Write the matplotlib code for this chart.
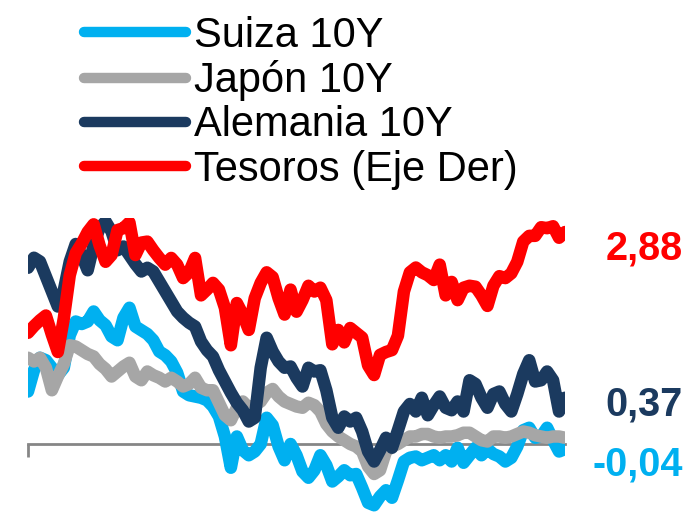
import numpy as np
import pandas as pd
import matplotlib
matplotlib.use("Agg")
import matplotlib.pyplot as plt

plt.rcParams['font.family'] = ['Liberation Sans', 'DejaVu Sans']

# 10-year government bond yields (%), left axis
suiza = [0.42, 0.59, 0.69, 0.67, 0.61, 0.55, 0.61, 0.87, 0.98, 0.96,
         0.98, 1.06, 0.99, 0.95, 0.86, 0.83, 1.01, 1.09, 0.94, 0.91,
         0.88, 0.83, 0.74, 0.71, 0.66, 0.57, 0.42, 0.39, 0.38, 0.37,
         0.35, 0.30, 0.22, 0.06, -0.19, 0.06, -0.05, -0.09, -0.06, 0.00,
         0.21, 0.15, -0.02, -0.13, 0.00, -0.09, -0.22, -0.27, -0.21, -0.09,
         -0.17, -0.30, -0.26, -0.21, -0.25, -0.24, -0.35, -0.47, -0.49, -0.42,
         -0.37, -0.43, -0.29, -0.14, -0.11, -0.10, -0.13, -0.11, -0.09, -0.13,
         -0.09, -0.14, -0.03, -0.15, -0.09, -0.03, -0.09, -0.04, -0.08, -0.10,
         -0.14, -0.11, -0.02, 0.11, 0.13, 0.05, 0.06, 0.13, 0.03, -0.06,
         -0.04]

japon = [0.69, 0.66, 0.69, 0.61, 0.43, 0.54, 0.64, 0.79, 0.78, 0.75,
         0.72, 0.70, 0.64, 0.60, 0.54, 0.58, 0.62, 0.65, 0.54, 0.51,
         0.58, 0.55, 0.53, 0.50, 0.53, 0.50, 0.46, 0.48, 0.53, 0.45,
         0.43, 0.43, 0.33, 0.23, 0.19, 0.29, 0.34, 0.29, 0.31, 0.34,
         0.41, 0.44, 0.38, 0.34, 0.32, 0.30, 0.29, 0.33, 0.31, 0.26,
         0.16, 0.10, 0.06, 0.03, 0.00, -0.02, -0.06, -0.18, -0.24, -0.21,
         -0.06, -0.02, 0.00, 0.03, 0.06, 0.06, 0.08, 0.08, 0.06, 0.05,
         0.06, 0.06, 0.07, 0.09, 0.09, 0.06, 0.03, 0.02, 0.06, 0.06,
         0.05, 0.06, 0.08, 0.10, 0.09, 0.07, 0.06, 0.05, 0.06, 0.06,
         0.05]

alemania = [1.41, 1.49, 1.46, 1.34, 1.22, 1.10, 1.23, 1.46, 1.60, 1.51,
            1.39, 1.59, 1.73, 1.78, 1.70, 1.55, 1.58, 1.51, 1.44, 1.38,
            1.41, 1.38, 1.30, 1.22, 1.14, 1.06, 1.01, 0.97, 0.94, 0.82,
            0.75, 0.70, 0.59, 0.50, 0.41, 0.33, 0.27, 0.18, 0.21, 0.61,
            0.85, 0.74, 0.66, 0.61, 0.62, 0.53, 0.46, 0.61, 0.58, 0.59,
            0.43, 0.21, 0.13, 0.22, 0.18, 0.21, 0.10, -0.06, -0.14, -0.05,
            0.05, -0.03, 0.11, 0.26, 0.32, 0.26, 0.37, 0.23, 0.31, 0.38,
            0.29, 0.27, 0.34, 0.26, 0.51, 0.48, 0.37, 0.29, 0.40, 0.42,
            0.32, 0.26, 0.40, 0.56, 0.67, 0.50, 0.51, 0.58, 0.51, 0.26,
            0.37]

# US Treasury 10-year yield (%), right axis
tesoros = [1.83, 1.90, 1.96, 2.01, 1.81, 1.63, 1.98, 2.43, 2.66, 2.76,
           2.88, 2.96, 2.74, 2.57, 2.64, 2.90, 2.92, 2.98, 2.64, 2.77,
           2.78, 2.69, 2.61, 2.54, 2.61, 2.54, 2.40, 2.46, 2.61, 2.22,
           2.28, 2.35, 2.28, 2.09, 1.70, 2.14, 2.02, 1.86, 2.19, 2.35,
           2.46, 2.41, 2.19, 2.02, 2.28, 2.05, 2.17, 2.32, 2.26, 2.30,
           2.17, 1.71, 1.86, 1.73, 1.88, 1.83, 1.78, 1.49, 1.39, 1.60,
           1.63, 1.65, 1.80, 2.26, 2.46, 2.51, 2.46, 2.43, 2.38, 2.54,
           2.22, 2.36, 2.17, 2.30, 2.32, 2.31, 2.22, 2.11, 2.32, 2.42,
           2.40, 2.45, 2.57, 2.78, 2.84, 2.84, 2.93, 2.92, 2.94, 2.82,
           2.88]

labels = ["Suiza 10Y", "Japón 10Y", "Alemania 10Y", "Tesoros (Eje Der)"]

C_SUIZA = "#00B0F0"
C_JAPON = "#A6A6A6"
C_ALEM = "#1B3A5F"
C_TES = "#FF0000"
C_AXIS = "#868686"

dates = pd.date_range("2013-05-01", "2018-06-01", periods=len(suiza))

W, H = 695, 513
fig = plt.figure(figsize=(W / 100, H / 100), dpi=100)
ax = fig.add_axes([28 / W, 1 / H, 537 / W, 294 / H])
ax2 = ax.twinx()

line_kw = dict(lw=9, solid_capstyle="round", solid_joinstyle="round")
l1, = ax.plot(dates, suiza, color=C_SUIZA, zorder=3, **line_kw)
l2, = ax.plot(dates, japon, color=C_JAPON, zorder=4, **line_kw)
l3, = ax.plot(dates, alemania, color=C_ALEM, zorder=5, **line_kw)
l4, = ax2.plot(dates, tesoros, color=C_TES, zorder=3, **line_kw)

ax.set_xlim(dates[0], dates[-1])
ax.set_ylim(-0.544, 1.808)
ax2.set_ylim(-0.037, 3.026)

# horizontal axis through zero with a single tick at the start
for a in (ax, ax2):
    for s in a.spines.values():
        s.set_visible(False)
    a.set_yticks([])
ax.spines["bottom"].set_visible(True)
ax.spines["bottom"].set_position(("data", 0))
ax.spines["bottom"].set_color(C_AXIS)
ax.spines["bottom"].set_linewidth(2)
ax.spines["bottom"].set_zorder(1)
ax.set_xticks([dates[0]])
ax.tick_params(axis="x", direction="out", length=9, width=2,
               color=C_AXIS, labelbottom=False)
ax.patch.set_visible(False)

leg = fig.legend([l1, l2, l3, l4], labels, loc="upper left",
                 bbox_to_anchor=(84 / W, 1 - 16 / H), frameon=False,
                 fontsize=30, handlelength=2.45, handletextpad=0.2,
                 labelspacing=0.1, borderpad=0, borderaxespad=0)
for h in leg.legend_handles:
    h.set_linewidth(7.5)

# latest values at the right edge
def fmt(v):
    return f"{v:.2f}".replace(".", ",")

for val, col, ybase in [(tesoros[-1], C_TES, 260),
                        (alemania[-1], C_ALEM, 415),
                        (suiza[-1], C_SUIZA, 475)]:
    fig.text(683 / W, 1 - ybase / H, fmt(val), color=col, fontsize=28.5,
             fontweight="bold", ha="right", va="baseline")

fig.savefig("out.png", dpi=100)
